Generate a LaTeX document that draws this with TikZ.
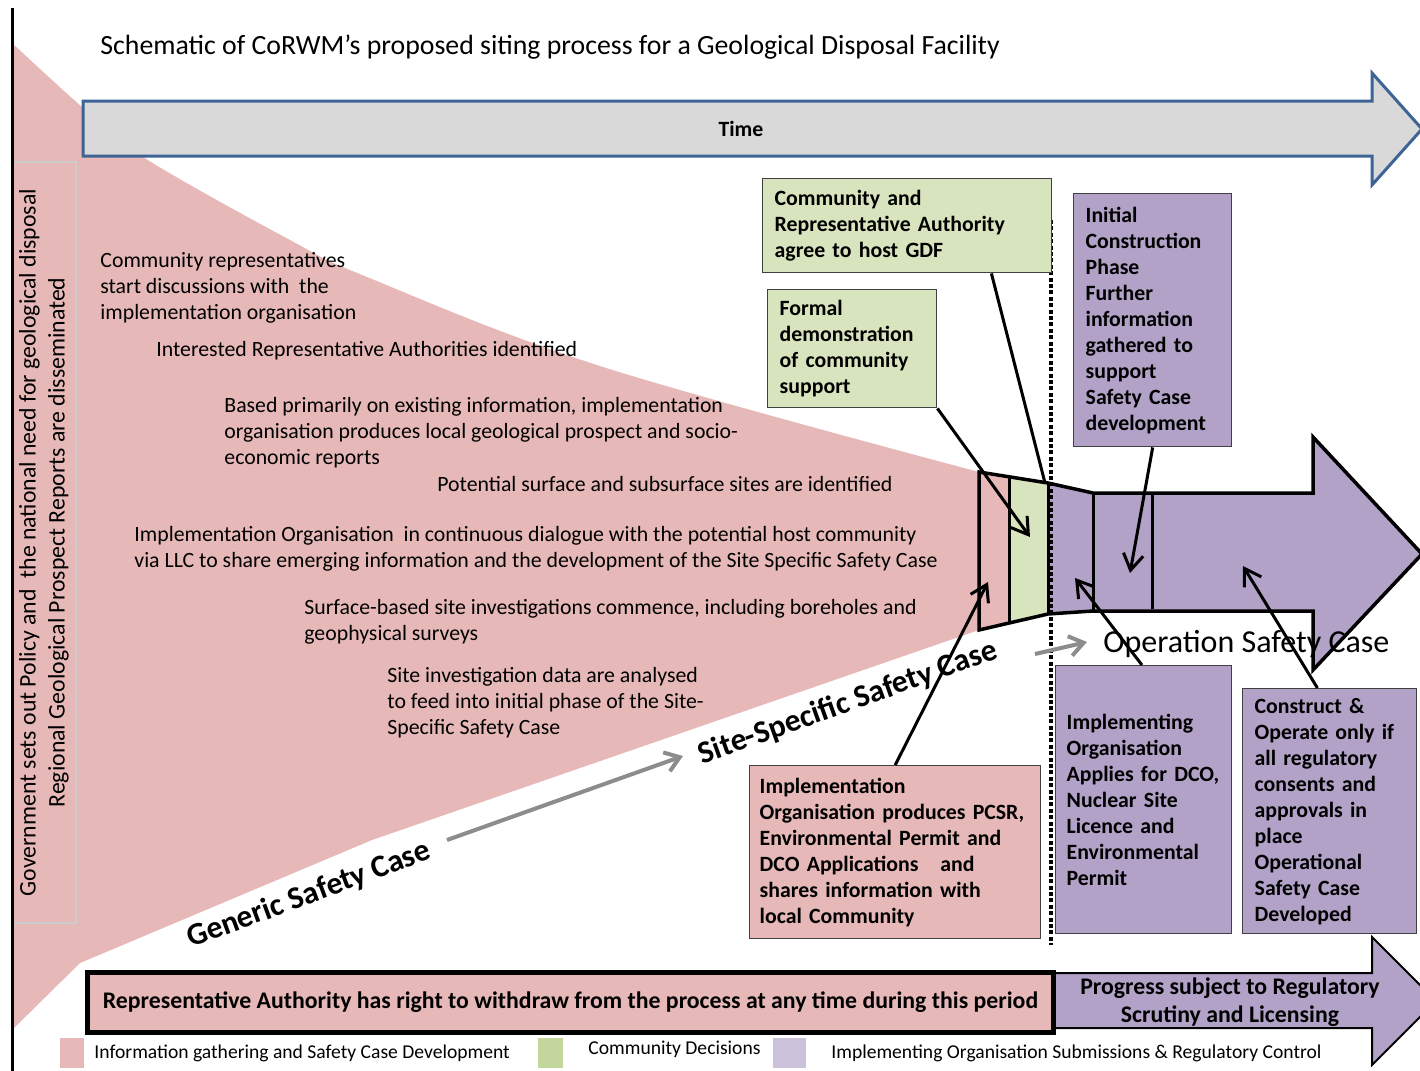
\documentclass[tikz,border=0pt]{standalone}
\usepackage{fontspec}
\setmainfont{Carlito}
\usepackage{xcolor}
\usepackage{tikz}
\usetikzlibrary{arrows.meta,calc}
\definecolor{infopink}{RGB}{230,185,184}
\definecolor{commgreen}{RGB}{215,228,189}
\definecolor{implpurple}{RGB}{178,162,199}
\definecolor{leggreen}{RGB}{195,214,155}
\definecolor{leglilac}{RGB}{204,193,218}
\definecolor{timegrey}{RGB}{217,217,217}
\definecolor{timeblue}{RGB}{62,100,150}
\definecolor{flowgrey}{RGB}{140,140,140}

\begin{document}
\begin{tikzpicture}[x=0.5pt,y=0.5pt,yscale=-1,
  bodytxt/.style={anchor=north west,inner sep=0pt,align=left,font=\fontsize{10.9}{13}\selectfont},
  infobox/.style={anchor=north west,draw=black!75,line width=0.7pt,inner ysep=0pt,align=left,font=\fontsize{10.9}{13}\selectfont\bfseries},
  bigcase/.style={inner sep=0pt,font=\fontsize{15.8}{18}\selectfont\bfseries},
  linkarrow/.style={line width=1.5pt,-{Straight Barb[length=8pt,width=10pt]}},
  flowarrow/.style={draw=flowgrey,line width=2pt,-{Straight Barb[length=7pt,width=10pt]}},
  legendsq/.style={minimum width=12pt,minimum height=15pt,inner sep=0pt},
  legendtxt/.style={anchor=west,inner sep=0pt,font=\fontsize{9.8}{12}\selectfont}]
    \useasboundingbox (0,0) rectangle (1420,1071);
    \clip (0,0) rectangle (1420,1071);
    \fill[white] (0,0) rectangle (1420,1071);
    \fill[infopink] plot[smooth,tension=0.6] coordinates {(12,43) (82,107) (143,157) (290,240) (367,277) (603,367) (979,472)} -- (979,630) -- (372,840) -- (80,963) -- (12,1030) -- cycle;
    \node[rotate=90,fill=infopink,draw=black!20,line width=0.8pt,minimum width=380.5pt,minimum height=32pt,inner sep=0pt,align=center,font=\fontsize{11.9}{14.5}\selectfont] (govbox) at (44,542.5) {Government sets out Policy and~ the national need for geological disposal\\Regional Geological Prospect Reports are disseminated};
    \draw[line width=1.5pt] (12,8) -- (12,1071);
    \draw[fill=timegrey,draw=timeblue,line width=1.5pt] (83,101) -- (1372,101) -- (1372,73) -- (1422,129) -- (1372,185) -- (1372,156) -- (83,156) -- cycle;
    \node[font=\fontsize{10.9}{13}\selectfont\bfseries] (timelbl) at (741,129) {Time};
    \node[anchor=west,inner sep=0pt,font=\fontsize{13.9}{16}\selectfont] (title) at (100,47) {Schematic of CoRWM’s proposed siting process for a Geological Disposal Facility};
    \node[bodytxt] (reps) at (100,252) {Community representatives\\start discussions with~ the\\implementation organisation};
    \node[bodytxt] (interest) at (156,341) {Interested Representative Authorities identified};
    \node[bodytxt] (based) at (224,397) {Based primarily on existing information, implementation\\organisation produces local geological prospect and socio-\\economic reports};
    \node[bodytxt] (sites) at (437,476) {Potential surface and subsurface sites are identified};
    \node[bodytxt] (dialogue) at (134,526) {Implementation Organisation~ in continuous dialogue with the potential host community\\via LLC to share emerging information and the development of the Site Specific Safety Case};
    \node[bodytxt] (surveys) at (304,599) {Surface-based site investigations commence, including boreholes and\\geophysical surveys};
    \node[bodytxt] (analysed) at (387,667) {Site investigation data are analysed\\to feed into initial phase of the Site-\\Specific Safety Case};
    \fill[infopink] (979,472) -- (1009,477) -- (1009,623) -- (979,630) -- cycle;
    \fill[commgreen] (1009,477) -- (1048,483) -- (1048,614) -- (1009,623) -- cycle;
    \fill[implpurple] (1048,483) -- (1093,493) -- (1313,493) -- (1313,437) -- (1422,554) -- (1313,670) -- (1313,611) -- (1093,611) -- (1048,614) -- cycle;
    \draw[line width=1.75pt] (979,472) -- (1048,483) -- (1093,493) -- (1313,493) -- (1313,437) -- (1422,554) -- (1313,670) -- (1313,611) -- (1093,611) -- (1048,614) -- (979,630) -- cycle;
    \draw[line width=1.5pt] (1009,477) -- (1009,623) (1048,483) -- (1048,614) (1093,493) -- (1093,611) (1152,495) -- (1152,609);
    \draw[line width=2pt,dash pattern=on 2pt off 1.2pt] (1051,220) -- (1051,945);
    \node[infobox,fill=commgreen,minimum width=144.5pt,minimum height=47pt,inner xsep=6pt,text width=132.5pt] (agree) at (762,178) {Community and\\Representative Authority\\agree to host GDF};
    \node[infobox,fill=commgreen,minimum width=84.5pt,minimum height=59pt,inner xsep=6pt,text width=72.5pt] (formal) at (767,289) {Formal\\demonstration\\of community\\support};
    \node[infobox,fill=implpurple,minimum width=79pt,minimum height=126.5pt,inner xsep=6pt,text width=67pt] (initial) at (1073,193) {Initial\\Construction\\Phase\\Further\\information\\gathered to\\support\\Safety Case\\development};
    \node[infobox,fill=implpurple,minimum width=88pt,minimum height=134pt,inner xsep=5.5pt,text width=77pt] (applies) at (1055,665) {Implementing\\Organisation\\Applies for DCO,\\Nuclear Site\\Licence and\\Environmental\\Permit};
    \node[infobox,fill=implpurple,minimum width=87pt,minimum height=122.5pt,inner xsep=6pt,text width=75pt] (construct) at (1242,688) {Construct \&\\Operate only if\\all regulatory\\consents and\\approvals in\\place\\Operational\\Safety Case\\Developed};
    \node[infobox,fill=infopink,minimum width=145.5pt,minimum height=86.5pt,inner xsep=5pt,text width=135.5pt] (produces) at (749,765) {Implementation\\Organisation produces PCSR,\\Environmental Permit and\\DCO Applications~~ and\\shares information with\\local Community};
    \draw[fill=implpurple,line width=1pt] (1051,973) -- (1372,973) -- (1372,937) -- (1436,1001) -- (1372,1065) -- (1372,1028) -- (1051,1028) -- cycle;
    \node[align=center,font=\fontsize{11.9}{14}\selectfont\bfseries] (progress) at (1230,1002) {Progress subject to Regulatory\\Scrutiny and Licensing};
    \node[anchor=north west,fill=infopink,draw=black,line width=2.5pt,minimum width=483pt,minimum height=30pt,inner sep=0pt,font=\fontsize{11.9}{14}\selectfont\bfseries] (withdraw) at (85,970) {\raisebox{1.5pt}{Representative Authority has right to withdraw from the process at any time during this period}};
    \node[anchor=west,inner sep=0pt,font=\fontsize{16}{19}\selectfont] (opcase) at (1103,644) {Operation Safety Case};
    \node[bigcase,rotate=20.4] (generic) at (309,895) {Generic Safety Case};
    \node[bigcase,rotate=19.7] (sitecase) at (848,703) {Site-Specific Safety Case};
    \coordinate (ingreen) at (1030,537);
    \coordinate (agreetip) at (1045,483);
    \coordinate (inbody) at (1130,573);
    \coordinate (inneck) at (1075,578);
    \coordinate (inhead) at (1243,566);
    \coordinate (inpink) at (988,582);
    \coordinate (genstart) at (447,840);
    \coordinate (genend) at (683,756);
    \coordinate (sitestart) at (1035,654);
    \coordinate (siteend) at (1087,642);
    \draw[linkarrow] (formal.south east) -- (ingreen);
    \draw[line width=1.5pt] ($(agree.south west)!.79!(agree.south east)$) -- (agreetip);
    \draw[linkarrow] (initial.south) -- (inbody);
    \draw[linkarrow] ($(applies.north west)!.49!(applies.north east)$) -- (inneck);
    \draw[linkarrow] ($(construct.north west)!.43!(construct.north east)$) -- (inhead);
    \draw[linkarrow] (produces.north) -- (inpink);
    \draw[flowarrow] (genstart) -- (genend);
    \draw[flowarrow] (sitestart) -- (siteend);
    \node[legendsq,fill=infopink] (legpinksq) at (72,1053) {};
    \node[legendtxt] (leginfo) at (94,1053) {Information gathering and Safety Case Development};
    \node[legendsq,fill=leggreen,minimum width=12.5pt] (leggreensq) at (550.5,1053) {};
    \node[legendtxt] (legcomm) at (588,1049) {Community Decisions};
    \node[legendsq,fill=leglilac,minimum width=16.5pt] (leglilacsq) at (789.5,1053) {};
    \node[legendtxt] (legimpl) at (831,1053) {Implementing Organisation Submissions \& Regulatory Control};
\end{tikzpicture}
\end{document}
